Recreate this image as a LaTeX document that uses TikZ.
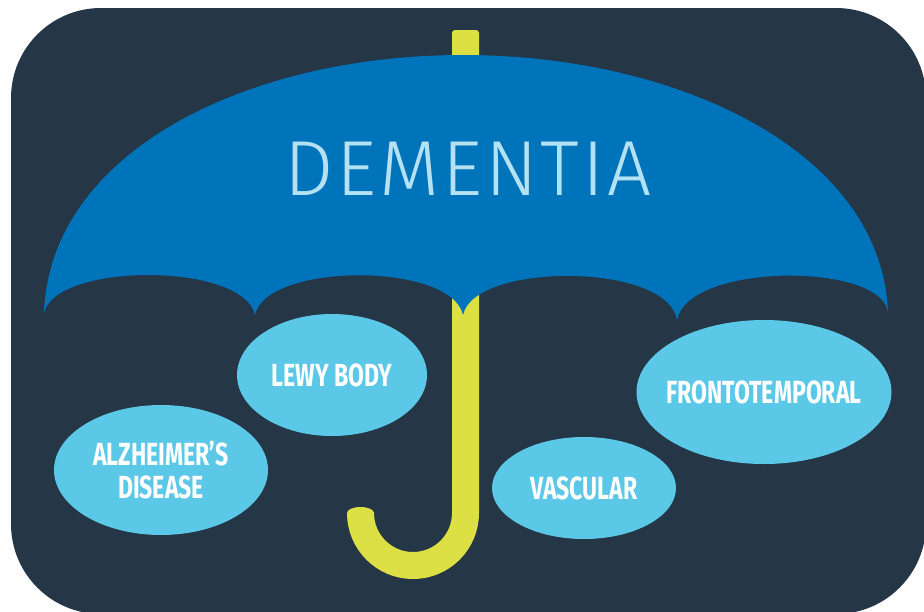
\documentclass[tikz,border=0pt]{standalone}
\usepackage{fontspec}
\usepackage{tikz}
\usetikzlibrary{shapes.geometric}
\newfontfamily\titlefont{Fira Sans Light}[LetterSpace=3.8]
\newfontfamily\labelfont{Fira Sans}[FakeStretch=0.72]
\definecolor{navy}{HTML}{253646}
\definecolor{canopy}{HTML}{0074BB}
\definecolor{pale}{HTML}{B5E2F2}
\definecolor{sky}{HTML}{5BC8E7}
\definecolor{lime}{HTML}{DCE045}
\begin{document}
\begin{tikzpicture}[x=1pt,y=-1pt,
  kind/.style={ellipse, fill=sky, text=white, inner sep=0pt, align=center,
    font=\labelfont\bfseries\fontsize{32}{33}\selectfont}]
  \useasboundingbox (0,0) rectangle (924,611);
  \fill[navy, rounded corners=90pt] (11,8) rectangle (926,614);
%  handle
  \fill[lime, rounded corners=3pt] (452,30) rectangle (479,100);
  \draw[lime, line width=27pt] (465.5,90) -- (465.5,513) arc (0:180:52.5);
  \fill[lime] (360.5,513) ellipse (13.5 and 6);
%  canopy with scalloped edge
  \fill[canopy] (44,313) .. controls (50,150) and (250,55) .. (463,55)
    .. controls (676,55) and (882,150) .. (888,313)
    .. controls (884,262) and (688,262) .. (677,320)
    .. controls (668,262) and (474,262) .. (463,315)
    .. controls (452,262) and (266,262) .. (255,315)
    .. controls (244,262) and (55,262) .. (44,313) -- cycle;
  \node[text=pale, font=\titlefont\fontsize{78}{78}\selectfont] (title) at (468,169) {DEMENTIA};
%  the kinds
  \node[kind, minimum width=190pt, minimum height=122pt] (lewy) at (332,375) {LEWY BODY};
  \node[kind, minimum width=214pt, minimum height=130pt] (alz) at (161,470) {ALZHEIMER’S\\DISEASE};
  \node[kind, minimum width=184pt, minimum height=102pt] (vasc) at (584,488) {VASCULAR};
  \node[kind, inner xsep=-20pt, minimum width=255pt, minimum height=144pt] (fronto) at (764,392) {FRONTOTEMPORAL};
\end{tikzpicture}
\end{document}
